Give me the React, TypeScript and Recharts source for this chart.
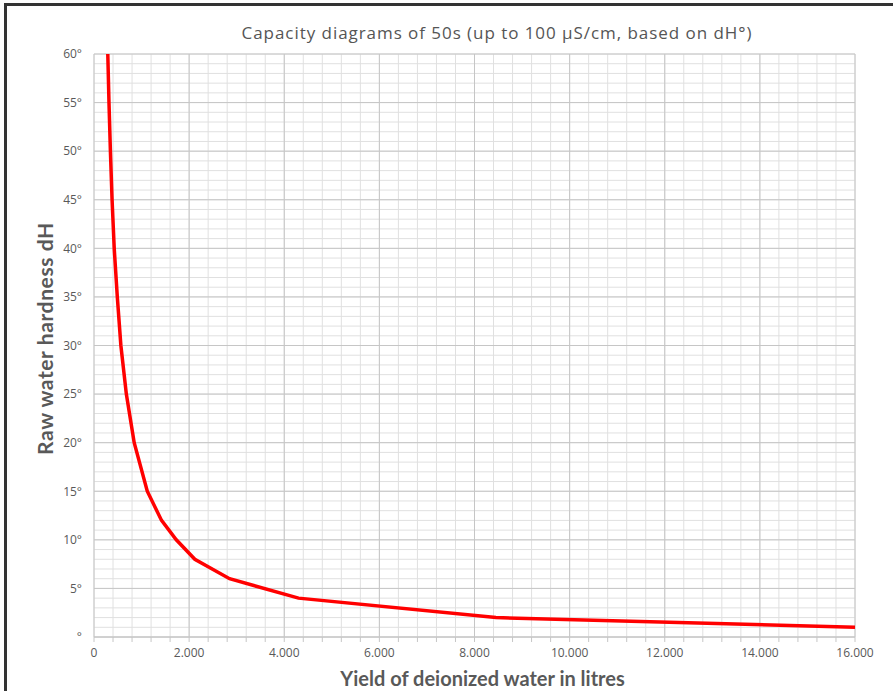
import React from 'react';
import { LineChart, Line, XAxis, YAxis, CartesianGrid, Label } from 'recharts';

const hardness = [60, 55, 50, 45, 40, 35, 30, 25, 20, 15, 12, 10, 8, 6, 4, 2, 1];
const litres = [290, 315, 345, 380, 425, 490, 565, 680, 845, 1120, 1420, 1730, 2120, 2850, 4300, 8450, 16000];

const xMajor = [0, 2000, 4000, 6000, 8000, 10000, 12000, 14000, 16000];
const yMajor = [0, 5, 10, 15, 20, 25, 30, 35, 40, 45, 50, 55, 60];
const xMinor = Array.from({ length: 41 }, (_, i) => i * 400);
const yMinor = Array.from({ length: 61 }, (_, i) => i);

const data = litres.map((l, i) => ({ litres: l, dh: hardness[i] }));

const fmtX = (v: number) => {
  if (v === 0) return '0';
  if (v % 2000 !== 0) return '';
  return `${v / 1000}.000`;
};
const fmtY = (v: number) => (v === 0 ? '°' : `${v}°`);

const font = 'Lato, "Open Sans", sans-serif';
const tickFont = '"Open Sans", sans-serif';
const textCol = '#595959';

const App = () => {
  return (
    <div style={{ position: 'absolute', left: 0, top: 0, width: 893, height: 691, background: '#fff', overflow: 'hidden', fontFamily: font }}>
      <div style={{ position: 'absolute', left: 4, top: 3, width: 900, height: 700, borderTop: '3px solid #333', borderLeft: '3px solid #333' }} />
      <div style={{ position: 'absolute', left: 0, top: 21, width: 994, textAlign: 'center', fontSize: 17, letterSpacing: 0.95, fontWeight: 500, color: '#555', fontFamily: tickFont }}>
        Capacity diagrams of 50s (up to 100 µS/cm, based on dH°)
      </div>
      <div style={{ position: 'absolute', left: 0, top: 0 }}>
        <LineChart width={893} height={691} data={data} margin={{ top: 54, right: 38, bottom: 0, left: 0 }}>
          <CartesianGrid stroke="#e0e0e0" strokeWidth={1} verticalValues={xMinor} horizontalValues={yMinor} />
          <CartesianGrid stroke="#c6c6c6" strokeWidth={1} verticalValues={xMajor} horizontalValues={yMajor} fill="none" />
          <XAxis
            dataKey="litres"
            type="number"
            domain={[0, 16000]}
            ticks={xMinor}
            interval={0}
            tickFormatter={fmtX}
            height={54}
            tickSize={5}
            tickMargin={6}
            stroke="#c6c6c6"
            tick={{ fill: textCol, fontSize: 12, fontFamily: tickFont }}
          >
            <Label value="Yield of deionized water in litres" position="insideBottom" offset={5} dx={8} style={{ fill: textCol, fontSize: 20, fontWeight: 700, fontFamily: font }} />
          </XAxis>
          <YAxis
            dataKey="dh"
            type="number"
            domain={[0, 60]}
            ticks={yMajor}
            interval={0}
            tickFormatter={fmtY}
            width={94}
            axisLine={false}
            tickLine={false}
            tickSize={6}
            tickMargin={6}
            tick={{ fill: textCol, fontSize: 12, fontFamily: tickFont }}
          >
            <Label
              content={(props: any) => {
                const vb = props.viewBox;
                const cx = vb.x + 44;
                const cy = vb.y + vb.height / 2 - 7;
                return (
                  <text x={cx} y={cy} transform={`rotate(-90 ${cx} ${cy})`} textAnchor="middle" dominantBaseline="central" fill={textCol} fontSize={21} fontWeight={700} letterSpacing={0.6} fontFamily={font}>
                    Raw water hardness dH
                  </text>
                );
              }}
            />
          </YAxis>
          <Line type="linear" dataKey="dh" stroke="#ff0000" strokeWidth={3.5} dot={false} isAnimationActive={false} />
        </LineChart>
      </div>
    </div>
  );
};

export default App;
